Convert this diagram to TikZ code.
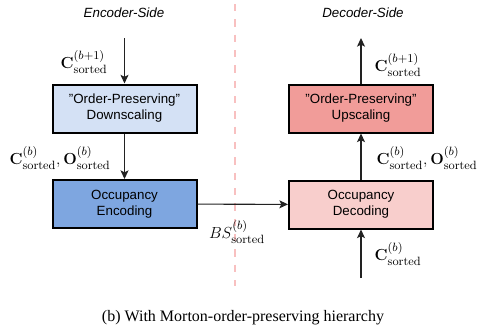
\documentclass[tikz,border=0pt]{standalone}
\usepackage[no-math]{fontspec}
\setsansfont{Liberation Sans}
\newfontfamily\capfont{Liberation Serif}
\usetikzlibrary{positioning}
\usetikzlibrary{arrows.meta}
\definecolor{encl}{HTML}{D4E1F5}
\definecolor{encd}{HTML}{7EA6E0}
\definecolor{decd}{HTML}{F19C99}
\definecolor{decl}{HTML}{F8CECC}
\definecolor{sepc}{HTML}{F8C0C0}
\definecolor{linec}{HTML}{222222}
\tikzset{
    blk/.style = {rectangle, line width=1.5pt, draw=black, align=center, minimum width=108pt, minimum height=36pt, font=\sffamily\fontsize{10}{12}\selectfont},
    blkencl/.style = {blk, fill=encl},
    blkencd/.style = {blk, fill=encd},
    blkdecd/.style = {blk, fill=decd},
    blkdecl/.style = {blk, fill=decl},
    side/.style = {font=\sffamily\itshape\fontsize{10}{12}\selectfont},
    lbl/.style = {inner sep=0pt, font=\fontsize{12.5}{15}\selectfont},
    edgen/.style = {-{Stealth[length=6.5pt,width=6pt,inset=1.5pt]}, line width=0.8pt, draw=linec},
    sepline/.style = {line width=2pt, draw=sepc, dash pattern=on 5.5pt off 6pt},
}
\newcommand{\Cs}[1]{\mathbf{C}^{(#1)}_{\mathrm{sorted}}}
\newcommand{\Os}[1]{\mathbf{O}^{(#1)}_{\mathrm{sorted}}}
\newcommand{\qt}[1]{\symbol{34}#1\symbol{34}}

\begin{document}
\begin{tikzpicture}[x=0.75pt,y=-0.75pt]
\useasboundingbox (0,0) rectangle (477,329);
%
\node[side] at (124,13) (encside) {Encoder-Side};
\node[side] at (363,13) (decside) {Decoder-Side};
%
\node[blkencl] at (124.5,108.5) (down) {\qt{Order-Preserving}\\Downscaling};
\node[blkencd] at (124.5,204) (enc) {Occupancy\\Encoding};
\node[blkdecd] at (361,108.5) (up) {\qt{Order-Preserving}\\Upscaling};
\node[blkdecl] at (361,204.5) (dec) {Occupancy\\Decoding};
%
\coordinate (encin) at (124.5,38);
\coordinate (decout) at (361,38);
\coordinate (decin) at (361,278);
\coordinate (septop) at (235,4);
\coordinate (sepbot) at (235,286);
%
\draw[sepline] (septop) -- (sepbot);
%
\draw[edgen] (encin) -- (down);
\draw[edgen] (down) -- (enc);
\draw[edgen] (enc) -- (dec);
\draw[edgen] (dec) -- (up);
\draw[edgen] (up) -- (decout);
\draw[edgen] (decin) -- (dec);
%
\node[lbl] at (84,62) (l1) {$\Cs{b+1}$};
\node[lbl] at (60,158) (l2) {$\Cs{b}, \Os{b}$};
\node[lbl] at (237,232) (l3) {$BS^{(b)}_{\mathrm{sorted}}$};
\node[lbl] at (427,158) (l4) {$\Cs{b}, \Os{b}$};
\node[lbl] at (398,65) (l5) {$\Cs{b+1}$};
\node[lbl] at (398,254) (l6) {$\Cs{b}$};
%
\node[font=\capfont\fontsize{12}{14}\selectfont] at (243,318) (cap) {(b) With Morton-order-preserving hierarchy};

\end{tikzpicture}
\end{document}
